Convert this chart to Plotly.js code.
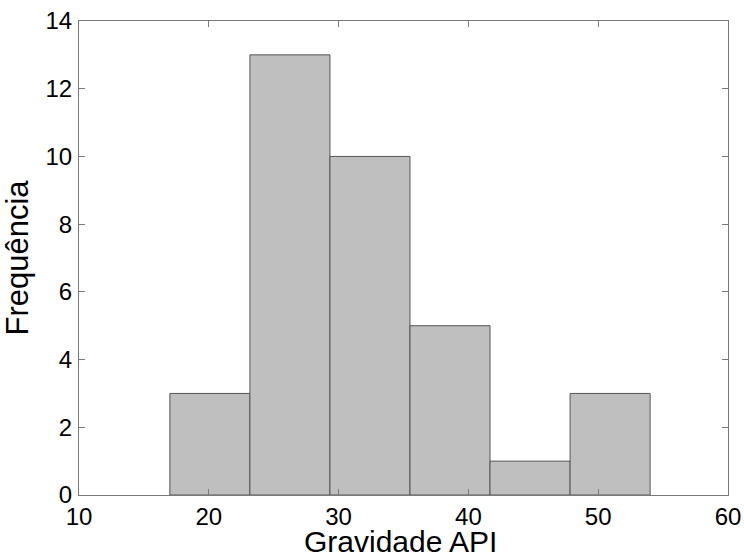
<!DOCTYPE html>
<html>
<head>
<meta charset="utf-8">
<script src="https://cdn.plot.ly/plotly-3.0.1.min.js"></script>
<style>
  html, body { margin: 0; padding: 0; background: #fff; }
  #chart { width: 744px; height: 557px; }
</style>
</head>
<body>
<div id="chart"></div>
<script>
// Histogram bins (API gravity) and their counts
const binCenters = [20.083, 26.25, 32.417, 38.583, 44.75, 50.917];
const binWidth = 6.1667;
const counts = [3, 13, 10, 5, 1, 3];

const xTicks = [10, 20, 30, 40, 50, 60];
const yTicks = [0, 2, 4, 6, 8, 10, 12, 14];

const xLabel = 'Gravidade API';
const yLabel = 'Frequência';

const font = 'Liberation Sans, Arial, sans-serif';

const trace = {
  type: 'bar',
  x: binCenters,
  y: counts,
  width: binCenters.map(() => binWidth),
  marker: { color: '#bfbfbf', line: { color: '#555555', width: 1 } },
  hoverinfo: 'x+y'
};

const axisCommon = {
  showgrid: false,
  zeroline: false,
  showline: true,
  linecolor: '#7a7a7a',
  linewidth: 1,
  mirror: 'ticks',
  ticks: 'inside',
  ticklen: 6,
  tickcolor: '#7a7a7a',
  tickfont: { family: font, size: 24, color: '#000' }
};

const layout = {
  width: 744,
  height: 557,
  margin: { l: 79, r: 16, t: 21, b: 62 },
  paper_bgcolor: '#fff',
  plot_bgcolor: '#fff',
  showlegend: false,
  bargap: 0,
  xaxis: Object.assign({}, axisCommon, {
    range: [10, 60],
    tickvals: xTicks,
    ticktext: xTicks.map(String)
  }),
  yaxis: Object.assign({}, axisCommon, {
    range: [0, 14],
    tickvals: yTicks,
    ticktext: yTicks.map(String),
    ticklabelstandoff: 1,
    title: { text: yLabel, font: { family: font, size: 31, color: '#000' }, standoff: 8 }
  }),
  // x-axis label placed as an annotation so it can sit close to the bottom edge
  annotations: [{
    text: xLabel,
    xref: 'paper', yref: 'paper',
    x: 0.5, y: 0,
    xanchor: 'center', yanchor: 'bottom',
    xshift: -3, yshift: -65,
    showarrow: false,
    font: { family: font, size: 30, color: '#000' }
  }]
};

Plotly.newPlot('chart', [trace], layout, { displayModeBar: false, staticPlot: true });
</script>
</body>
</html>
